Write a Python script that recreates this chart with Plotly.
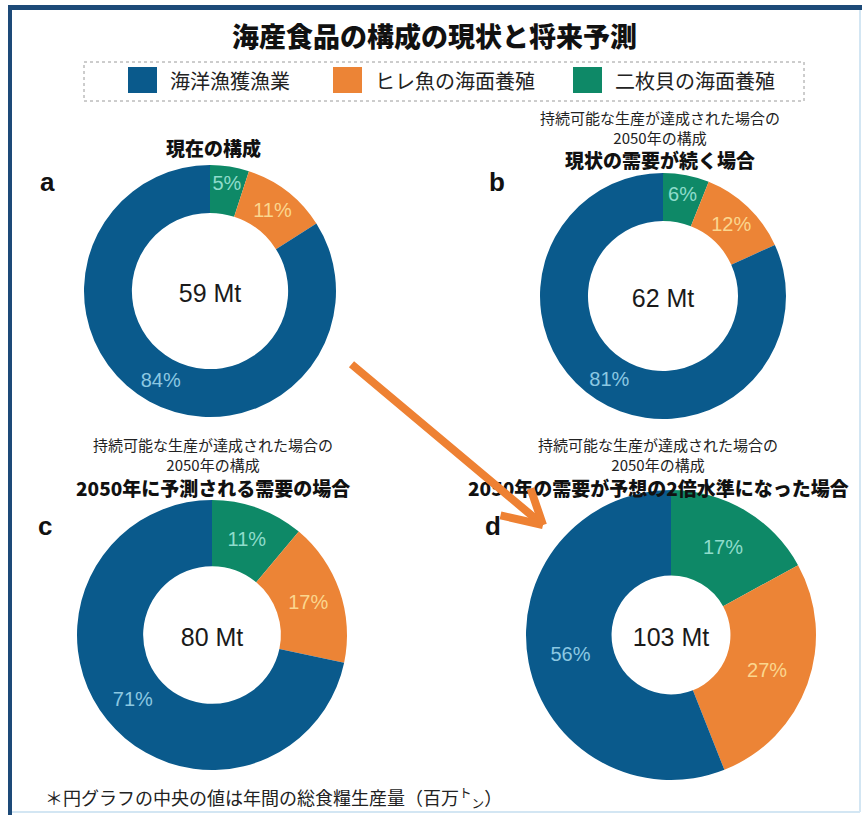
import plotly.graph_objects as go

W, H = 866, 815

# categories (drawing order: clockwise from 12 o'clock)
categories = ["二枚貝の海面養殖", "ヒレ魚の海面養殖", "海洋漁獲漁業"]
legend_order = ["海洋漁獲漁業", "ヒレ魚の海面養殖", "二枚貝の海面養殖"]
colors = {"海洋漁獲漁業": "#0a5a8c", "ヒレ魚の海面養殖": "#ec8436", "二枚貝の海面養殖": "#0e8967"}
label_colors = {"海洋漁獲漁業": "#8cc8e2", "ヒレ魚の海面養殖": "#fbd68e", "二枚貝の海面養殖": "#8fdccb"}

# share (%) of each category per scenario
share_a = [5, 11, 84]
share_b = [6, 12, 81]
share_c = [11, 17, 71]
share_d = [17, 27, 56]

# total production (Mt) shown in the hole
totals = [59, 62, 80, 103]

panel_letters = ["a", "b", "c", "d"]
panel_titles = ["現在の構成", "現状の需要が続く場合", "2050年に予測される需要の場合",
                "2050年の需要が予想の2倍水準になった場合"]
sub_lines = "持続可能な生産が達成された場合の<br>2050年の構成"
main_title = "海産食品の構成の現状と将来予測"
footnote = "＊円グラフの中央の値は年間の総食糧生産量（百万<sup>ト</sup><sub>ン</sub>）"

JP = "Noto Sans CJK JP"
LAT = "Liberation Sans, Arial, sans-serif"


def px(x):
    return x / W


def py(y):
    return 1 - y / H


# pie placement (centre x, centre y, outer radius in px, hole fraction)
layout_geom = [
    (210, 291, 126, 0.62),
    (663, 296, 123, 0.61),
    (212, 635, 135, 0.51),
    (671, 635, 145, 0.41),
]

fig = go.Figure()
for share, total, (cx, cy, r, hole) in zip([share_a, share_b, share_c, share_d], totals, layout_geom):
    fig.add_trace(go.Pie(
        labels=categories,
        values=share,
        sort=False,
        direction="clockwise",
        rotation=0,
        hole=hole,
        domain=dict(x=[px(cx - r), px(cx + r)], y=[py(cy + r), py(cy - r)]),
        marker=dict(colors=[colors[c] for c in categories], line=dict(width=0)),
        texttemplate="%{value}%",
        textposition="inside",
        insidetextorientation="horizontal",
        textfont=dict(family=LAT, size=20, color=[label_colors[c] for c in categories]),
        title=dict(text=f"{total} Mt", position="middle center",
                   font=dict(family=LAT, size=25, color="#1a1a1a")),
        showlegend=False,
        hoverinfo="label+value",
    ))

annotations = []
shapes = []

# main title
annotations.append(dict(text=main_title, x=px(434), y=py(36), xref="paper", yref="paper",
                        showarrow=False, xanchor="center", yanchor="middle",
                        font=dict(family=JP, size=27, color="#111", weight=900)))

# legend box and entries
shapes.append(dict(type="rect", xref="paper", yref="paper", x0=px(84), x1=px(804), y0=py(101), y1=py(62),
                   line=dict(color="#9a9a9a", width=1, dash="dot"), fillcolor="rgba(0,0,0,0)"))
legend_x = [128, 333, 573]
for name, lx in zip(legend_order, legend_x):
    shapes.append(dict(type="rect", xref="paper", yref="paper", x0=px(lx), x1=px(lx + 29),
                       y0=py(93), y1=py(67), fillcolor=colors[name], line=dict(width=0)))
    annotations.append(dict(text=name, x=px(lx + 40), y=py(81), xref="paper", yref="paper",
                            showarrow=False, xanchor="left", yanchor="middle",
                            font=dict(family=JP, size=20, color="#222")))

# panel headers
header_x = [213, 660, 213, 658]
header_mid = [None, 128, 454, 454]
bold_y = [147, 159, 487, 487]
for i in range(4):
    hx = header_x[i]
    if header_mid[i] is not None:
        annotations.append(dict(text=sub_lines, x=px(hx), y=py(header_mid[i]), xref="paper", yref="paper",
                                showarrow=False, xanchor="center", yanchor="middle", align="center",
                                font=dict(family=JP, size=15, color="#222")))
    annotations.append(dict(text=panel_titles[i], x=px(hx), y=py(bold_y[i]), xref="paper", yref="paper",
                            showarrow=False, xanchor="center", yanchor="middle",
                            font=dict(family=JP, size=19, color="#111", weight=900)))

# panel letters
letter_pos = [(47, 182), (497, 182), (45, 526), (493, 526)]
for letter, (lx, ly) in zip(panel_letters, letter_pos):
    annotations.append(dict(text=letter, x=px(lx), y=py(ly), xref="paper", yref="paper",
                            showarrow=False, xanchor="center", yanchor="middle",
                            font=dict(family=LAT, size=26, color="#111", weight=900)))

# footnote
annotations.append(dict(text=footnote, x=px(43), y=py(797), xref="paper", yref="paper",
                        showarrow=False, xanchor="left", yanchor="middle",
                        font=dict(family=JP, size=18, color="#222")))

# orange arrow from panel a towards panel d
tip_x, tip_y = px(543), py(525)
arrow_col = "#ee8133"
annotations.append(dict(x=tip_x, y=tip_y, xref="paper", yref="paper", ax=-193, ay=-162,
                        showarrow=True, arrowhead=0, arrowwidth=8, arrowcolor=arrow_col,
                        text="", standoff=0, startstandoff=0))
for ax, ay in [(-44, -10), (-13, -38)]:
    annotations.append(dict(x=tip_x, y=tip_y, xref="paper", yref="paper", ax=ax, ay=ay,
                            showarrow=True, arrowhead=0, arrowwidth=8, arrowcolor=arrow_col,
                            text="", standoff=0, startstandoff=0))

# page frame
shapes.append(dict(type="rect", xref="paper", yref="paper", x0=px(8), x1=px(862), y0=py(10), y1=py(5),
                   fillcolor="#1d4a78", line=dict(width=0)))
shapes.append(dict(type="rect", xref="paper", yref="paper", x0=px(8), x1=px(12), y0=py(815), y1=py(5),
                   fillcolor="#1d4a78", line=dict(width=0)))
shapes.append(dict(type="line", xref="paper", yref="paper", x0=px(860), x1=px(860), y0=py(812), y1=py(10),
                   line=dict(color="#d3e6f3", width=2)))
shapes.append(dict(type="line", xref="paper", yref="paper", x0=px(12), x1=px(860), y0=py(812), y1=py(812),
                   line=dict(color="#d3e6f3", width=2)))

fig.update_layout(
    width=W, height=H,
    margin=dict(l=0, r=0, t=0, b=0),
    paper_bgcolor="white",
    plot_bgcolor="white",
    annotations=annotations,
    shapes=shapes,
    uniformtext=dict(minsize=20, mode="show"),
)

fig.write_html("out.html")
